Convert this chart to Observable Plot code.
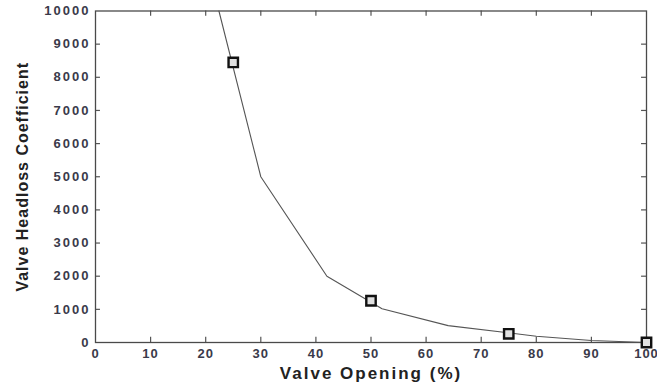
<!DOCTYPE html>
<html>
<head>
<meta charset="utf-8">
<script src="https://cdn.jsdelivr.net/npm/d3@7"></script>
<script src="https://cdn.jsdelivr.net/npm/@observablehq/plot@0.6"></script>
<style>
  html, body { margin: 0; padding: 0; background: #fff; }
  #chart svg { display: block; }
  g[aria-label="y-axis tick label"] text { letter-spacing: 2px; }
  g[aria-label="x-axis tick label"] text { letter-spacing: 1px; }
  .xlab text { letter-spacing: 2px; }
  .ylab text { letter-spacing: 1px; }
</style>
</head>
<body>
<div id="chart"></div>
<script>
// Data
const xLabel = "Valve Opening (%)";
const yLabel = "Valve Headloss Coefficient";
const xTicks = [0, 10, 20, 30, 40, 50, 60, 70, 80, 90, 100];
const yTicks = [0, 1000, 2000, 3000, 4000, 5000, 6000, 7000, 8000, 9000, 10000];
// fitted curve
const curveOpening = [22.4, 30, 42, 52, 64, 80, 90, 100];
const curveCoeff   = [10000, 5000, 2000, 1020, 510, 190, 60, 0];
// measured points
const pointOpening = [25, 50, 75, 100];
const pointCoeff   = [8450, 1260, 262, 0];

const curve = curveOpening.map((x, i) => ({x, y: curveCoeff[i]}));
const points = pointOpening.map((x, i) => ({x, y: pointCoeff[i]}));
const innerX = xTicks.slice(1, -1);
const innerY = yTicks.slice(1, -1);

const tickColor = "#555";
const chart = Plot.plot({
  width: 657,
  height: 388,
  marginLeft: 95,
  marginRight: 11,
  marginTop: 10.5,
  marginBottom: 46,
  style: {fontFamily: "'Liberation Sans', Arial, sans-serif", background: "#fff"},
  x: {domain: [0, 100]},
  y: {domain: [0, 10000]},
  marks: [
    // inward ticks
    Plot.ruleX(innerX, {x: d => d, y1: 0, y2: 160, stroke: tickColor, strokeWidth: 1.2}),
    Plot.ruleX(innerX, {x: d => d, y1: 10000, y2: 9840, stroke: tickColor, strokeWidth: 1.2}),
    Plot.ruleY(innerY, {y: d => d, x1: 0, x2: 0.9, stroke: tickColor, strokeWidth: 1.2}),
    Plot.ruleY(innerY, {y: d => d, x1: 100, x2: 99.1, stroke: tickColor, strokeWidth: 1.2}),
    Plot.axisX({ticks: xTicks, tickSize: 0, tickPadding: 6, tickFormat: d => String(d), fontSize: 13, fontWeight: "bold", fill: "#3a3a4a", label: null}),
    Plot.axisY({ticks: yTicks, tickSize: 0, tickPadding: 5, tickFormat: d => String(d), fontSize: 13, fontWeight: "bold", fill: "#3a3a4a", label: null}),
    Plot.frame({stroke: "#4a4a4a", strokeWidth: 1.3}),
    Plot.line(curve, {x: "x", y: "y", stroke: "#555", strokeWidth: 1.1}),
    Plot.dot(points, {x: "x", y: "y", symbol: "square", r: 5.3, stroke: "#111", strokeWidth: 2.4, fill: "#e0e0e0"}),
    Plot.text([xLabel], {text: d => d, frameAnchor: "bottom", dy: 36, fontSize: 17, fontWeight: "bold", fill: "#222", className: "xlab"}),
    Plot.text([yLabel], {text: d => d, frameAnchor: "left", textAnchor: "middle", dx: -73, rotate: -90, fontSize: 16, fontWeight: "bold", fill: "#222", className: "ylab"})
  ]
});
document.getElementById("chart").appendChild(chart);
</script>
</body>
</html>
